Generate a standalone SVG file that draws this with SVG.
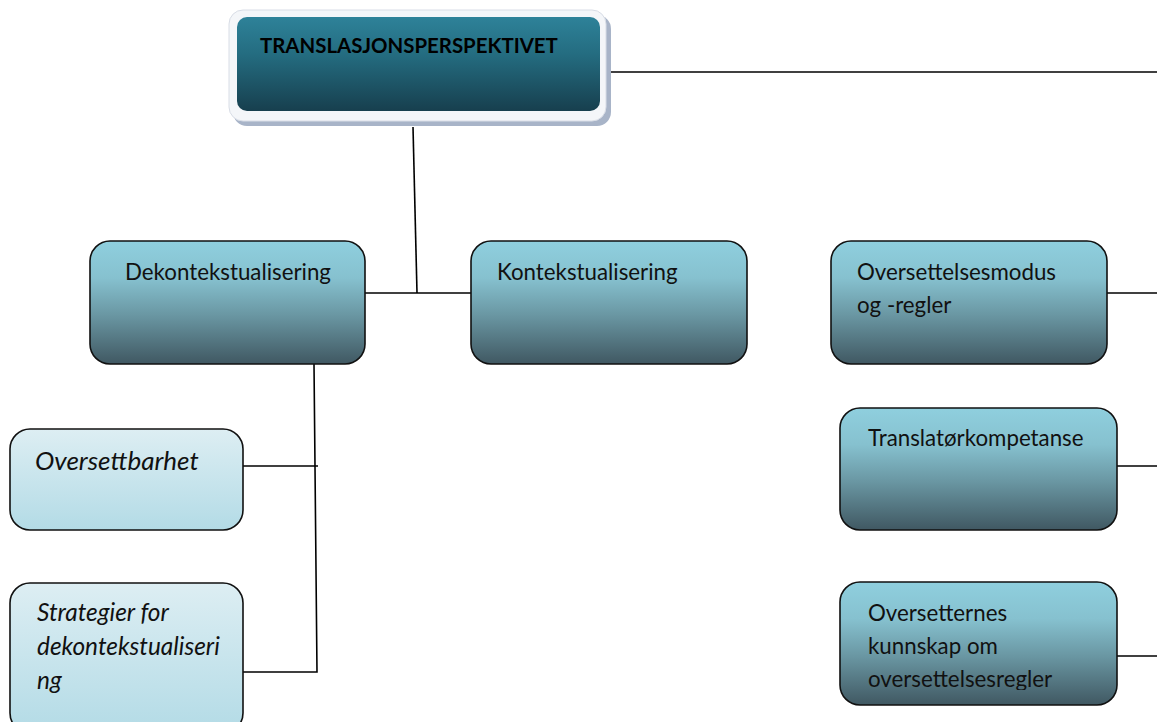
<svg xmlns="http://www.w3.org/2000/svg" width="1157" height="722" viewBox="0 0 1157 722">
<style>
.t{font-family:Lato,"Liberation Sans",sans-serif;font-size:22.3px;fill:#111}
.ti{font-family:Lato,"Liberation Sans",sans-serif;font-style:italic;fill:#111}
.box{stroke:#111;stroke-width:1.6;fill:url(#dark)}
.lbox{stroke:#111;stroke-width:1.6;fill:url(#light)}
.c{stroke:#000;stroke-width:1.6;fill:none}
</style>
<defs>
<linearGradient id="dark" x1="0" y1="0" x2="0" y2="1">
<stop offset="0" stop-color="#8fcfde"/>
<stop offset="0.3" stop-color="#86c1cf"/>
<stop offset="0.6" stop-color="#6a97a3"/>
<stop offset="1" stop-color="#405862"/>
</linearGradient>
<linearGradient id="light" x1="0" y1="0" x2="0" y2="1">
<stop offset="0" stop-color="#ddeef3"/>
<stop offset="1" stop-color="#b3dbe6"/>
</linearGradient>
<linearGradient id="top" x1="0" y1="0" x2="0" y2="1">
<stop offset="0" stop-color="#2e8299"/>
<stop offset="0.4" stop-color="#246c80"/>
<stop offset="1" stop-color="#173f4e"/>
</linearGradient>
<clipPath id="clipOv">
<rect x="840" y="582" width="277" height="108"/>
</clipPath>
</defs>
<g id="connectors">
<line class="c" x1="607" y1="72" x2="1157" y2="72"/>
<line class="c" x1="413" y1="127" x2="417" y2="293"/>
<line class="c" x1="365" y1="293" x2="471" y2="293"/>
<line class="c" x1="1107" y1="293" x2="1157" y2="293"/>
<polyline class="c" points="314,364 317,672 243,672"/>
<line class="c" x1="243" y1="466" x2="318" y2="466"/>
<line class="c" x1="1117" y1="466" x2="1157" y2="466"/>
<line class="c" x1="1117" y1="656" x2="1157" y2="656"/>
</g>
<g id="n-top">
<rect x="233" y="15" width="378" height="111" rx="14" fill="#a8b4c8"/>
<rect x="229" y="10" width="377" height="111" rx="14" fill="#f4f6f9" stroke="#d8dde6" stroke-width="1"/>
<rect x="237" y="17" width="363" height="94" rx="10" fill="url(#top)"/>
<text x="260" y="53" style="font-family:Lato,'Liberation Sans',sans-serif;font-weight:bold;font-size:20.4px;fill:#000">TRANSLASJONSPERSPEKTIVET</text>
</g>
<g id="n-dekont">
<rect class="box" x="90" y="241" width="275" height="123" rx="20"/>
<text class="t" x="125" y="280">Dekontekstualisering</text>
</g>
<g id="n-kont">
<rect class="box" x="471" y="241" width="276" height="123" rx="20"/>
<text class="t" x="497" y="280">Kontekstualisering</text>
</g>
<g id="n-modus">
<rect class="box" x="831" y="241" width="276" height="123" rx="20"/>
<text class="t" x="857" y="280">Oversettelsesmodus</text>
<text class="t" x="857" y="313">og -regler</text>
</g>
<g id="n-oversettbarhet">
<rect class="lbox" x="10" y="429" width="233" height="101" rx="20"/>
<text class="ti" x="35" y="470" font-size="26">Oversettbarhet</text>
</g>
<g id="n-strategier">
<rect class="lbox" x="10" y="583" width="233" height="150" rx="20"/>
<text class="ti" x="37" y="621" font-size="24.4">Strategier for</text>
<text class="ti" x="37" y="655" font-size="24.4">dekontekstualiseri</text>
<text class="ti" x="37" y="689" font-size="24.4">ng</text>
</g>
<g id="n-translator">
<rect class="box" x="840" y="408" width="277" height="122" rx="20"/>
<text class="t" x="868" y="446">Translatørkompetanse</text>
</g>
<g id="n-oversetternes">
<rect class="box" x="840" y="582" width="277" height="123" rx="20"/>
<text class="t" x="868" y="621">Oversetternes</text>
<text class="t" x="868" y="654">kunnskap om</text>
<text class="t" x="868" y="687" clip-path="url(#clipOv)">oversettelsesregler</text>
</g>
</svg>
